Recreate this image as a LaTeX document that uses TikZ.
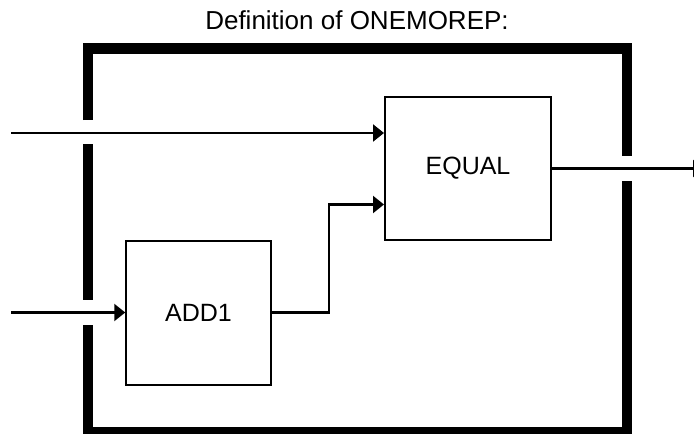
\documentclass[tikz,border=0pt]{standalone}
\usepackage{fontspec}
\setmainfont{Liberation Sans}
\usetikzlibrary{arrows.meta, positioning, calc}

\begin{document}
\begin{tikzpicture}[x=1pt, y=-1pt,
    block/.style={rectangle, draw=black, line width=2pt, align=center, inner sep=0pt, font=\fontsize{25}{29}\selectfont},
    frame/.style={draw=black, line width=10.7pt},
    arrow/.style={-{Triangle[length=11pt, width=17pt]}, line width=2.2pt, color=black}
]
\useasboundingbox (0,0) rectangle (694,434);
\clip (0,0) rectangle (694,434);
\node[font=\fontsize{26}{30}\selectfont, anchor=base] (title) at (357,29.3) {Definition of ONEMOREP:};
\node[block, minimum width=166pt, minimum height=143pt] (equal) at (468,168.5) {EQUAL};
\node[block, minimum width=144.5pt, minimum height=144pt] (add) at (198.5,312.5) {ADD1};
\coordinate (inA) at (11,133);
\coordinate (inB) at (11,312.5);
\coordinate (outA) at (704,168.5);
% outer box with gaps for the wires
\draw[frame] (88,120) -- (88,48.5) -- (627,48.5) -- (627,156);
\draw[frame] (88,144) -- (88,300);
\draw[frame] (88,325) -- (88,432) -- (627,432) -- (627,181);
\draw[arrow] (inA) -- (inA -| equal.west);
\draw[arrow] (inB) -- (add.west);
\draw[arrow] (add.east) -- ++(57,0) |- ([yshift=-36pt]equal.west);
\draw[arrow] (equal.east) -- (outA);
\end{tikzpicture}
\end{document}
